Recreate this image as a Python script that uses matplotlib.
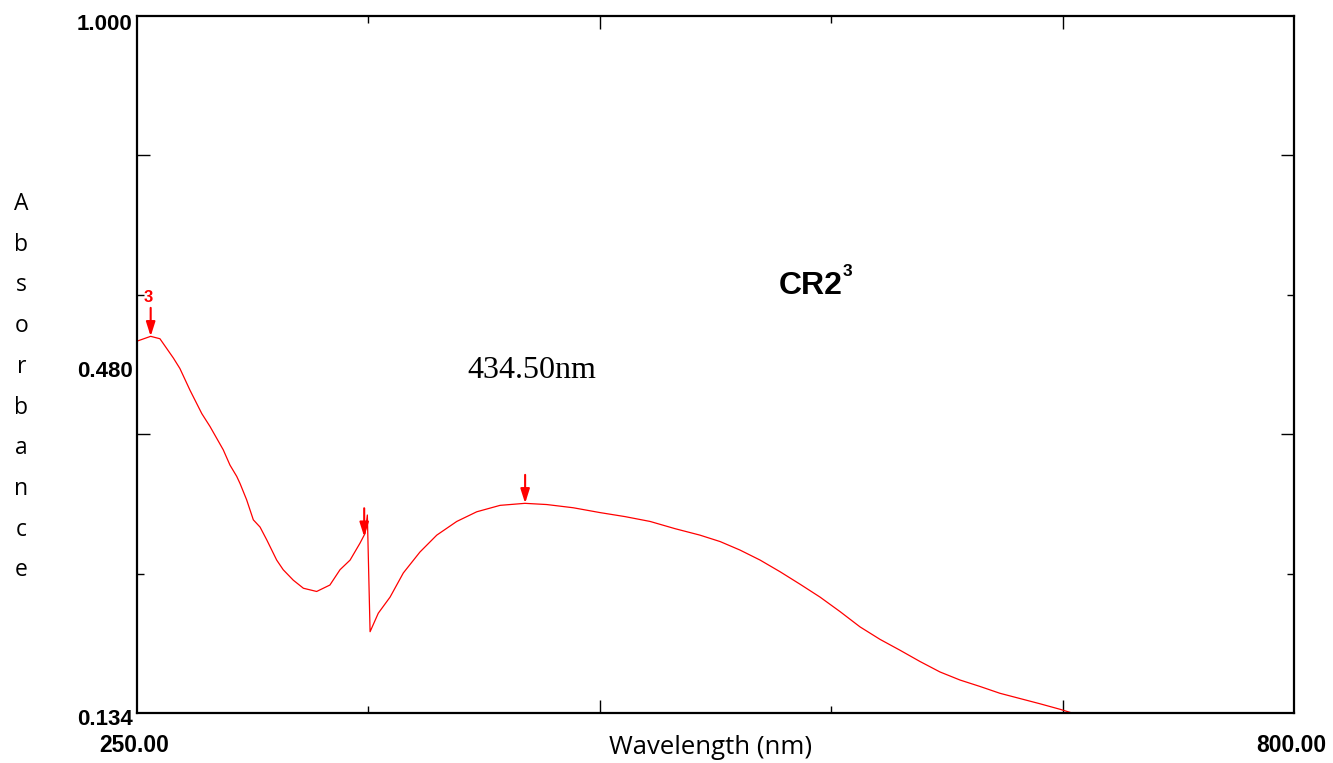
import matplotlib
matplotlib.use("Agg")
import matplotlib.pyplot as plt
from matplotlib.ticker import FixedLocator, NullFormatter

# ---- data ----
wavelength = [250.0, 256.5, 260.9, 264.1, 267.3, 270.4, 275.2, 280.8, 284.7, 291.0,
              294.2, 297.4, 299.0, 302.1, 305.3, 308.5, 311.7, 316.4, 319.5, 324.3,
              329.1, 335.4, 341.7, 346.5, 351.3, 356.0, 358.4, 359.5, 360.8, 364.7,
              370.3, 376.6, 384.5, 392.5, 402.0, 411.5, 422.6, 434.4, 444.8, 457.4,
              470.1, 482.0, 493.9, 505.8, 517.6, 527.2, 536.6, 546.2, 555.7, 565.2,
              574.7, 584.2, 593.7, 603.2, 612.7, 622.2, 631.7, 641.2, 650.7, 660.2,
              669.7, 679.2, 688.8, 693.5]
absorbance = [0.596, 0.602, 0.599, 0.587, 0.575, 0.562, 0.535, 0.506, 0.490, 0.461,
              0.442, 0.428, 0.419, 0.399, 0.374, 0.365, 0.349, 0.324, 0.312, 0.299,
              0.289, 0.285, 0.293, 0.312, 0.324, 0.345, 0.357, 0.380, 0.235, 0.258,
              0.278, 0.308, 0.334, 0.355, 0.372, 0.384, 0.392, 0.3945, 0.393, 0.389,
              0.383, 0.378, 0.372, 0.363, 0.355, 0.347, 0.3365, 0.324, 0.3095, 0.294,
              0.278, 0.260, 0.241, 0.2255, 0.212, 0.198, 0.185, 0.175, 0.167, 0.1585,
              0.152, 0.1455, 0.1386, 0.1348]

marker_wl = [256.5, 358.0, 434.5]
marker_abs = [0.602, 0.353, 0.3945]

x_min, x_max = 250.0, 800.0
y_min, y_max = 0.134, 1.000
x_major = [470.0, 690.0]
x_minor = [360.0, 580.0]
y_major = [0.4804, 0.8268]
y_minor = [0.3072, 0.6536]
x_tick_labels = ["250.00", "800.00"]
y_tick_labels = ["1.000", "0.480", "0.134"]
ylabel_text = "Absorbance"
xlabel_text = "Wavelength (nm)"
title_main = "CR2"
title_sup = "3"
peak_text = "434.50nm"
marker_label = "3"

W, H = 1333, 763
fig = plt.figure(figsize=(W / 100, H / 100), dpi=100)
ax = fig.add_axes([137 / W, 1 - 713 / H, (1294 - 137) / W, (713 - 16) / H])


def px(x, y):
    return x / W, 1 - y / H


ax.plot(wavelength, absorbance, color="#ff0000", lw=0.9)
ax.set_xlim(x_min, x_max)
ax.set_ylim(y_min, y_max)

for s in ax.spines.values():
    s.set_linewidth(1.6)
    s.set_color("black")

ax.xaxis.set_major_locator(FixedLocator(x_major))
ax.xaxis.set_minor_locator(FixedLocator(x_minor))
ax.yaxis.set_major_locator(FixedLocator(y_major))
ax.yaxis.set_minor_locator(FixedLocator(y_minor))
ax.xaxis.set_major_formatter(NullFormatter())
ax.yaxis.set_major_formatter(NullFormatter())
ax.tick_params(which="both", direction="in", top=True, right=True, width=1.0,
               labelbottom=False, labelleft=False)
ax.tick_params(which="major", length=9.5)
ax.tick_params(which="minor", length=5.2)

# markers (arrows)
for mx, my in zip(marker_wl, marker_abs):
    ax.annotate("", xy=(mx, my), xytext=(0, 20.5), textcoords="offset points",
                arrowprops=dict(arrowstyle="-|>,head_length=0.85,head_width=0.27",
                                color="#ff0000", lw=1.5, mutation_scale=10,
                                shrinkA=0, shrinkB=0))

# tick labels (drawn as text to mimic the instrument layout)
lab_font = dict(family="Liberation Sans", weight="bold", color="black")
fig.text(*px(132, 30), y_tick_labels[0], ha="right", va="baseline", fontsize=16, **lab_font)
fig.text(*px(133, 377), y_tick_labels[1], ha="right", va="baseline", fontsize=16, **lab_font)
fig.text(*px(133, 725), y_tick_labels[2], ha="right", va="baseline", fontsize=16, **lab_font)
fig.text(*px(134.5, 752), x_tick_labels[0], ha="center", va="baseline", fontsize=16.5, **lab_font)
fig.text(*px(1291, 752), x_tick_labels[1], ha="center", va="baseline", fontsize=16.5, **lab_font)

# axis labels
fig.text(*px(711, 754), xlabel_text, ha="center", va="baseline", fontsize=18.5,
         family="Open Sans", color="black")
for i, ch in enumerate(ylabel_text):
    fig.text(*px(21.5, 210 + 40.7 * i), ch, ha="center", va="baseline", fontsize=16.5,
             family="Open Sans", color="black")

# annotations
fig.text(*px(779, 294), title_main, ha="left", va="baseline", fontsize=23,
         family="Liberation Sans", weight="bold", color="black")
fig.text(*px(843, 276), title_sup, ha="left", va="baseline", fontsize=12.5,
         family="Liberation Sans", weight="bold", color="black")
fig.text(*px(532, 378), peak_text, ha="center", va="baseline", fontsize=23,
         family="Liberation Serif", color="black")
fig.text(*px(148.5, 302), marker_label, ha="center", va="baseline", fontsize=12,
         family="Liberation Sans", weight="bold", color="#ff0000")

fig.savefig("out.png", dpi=100, facecolor="white")
